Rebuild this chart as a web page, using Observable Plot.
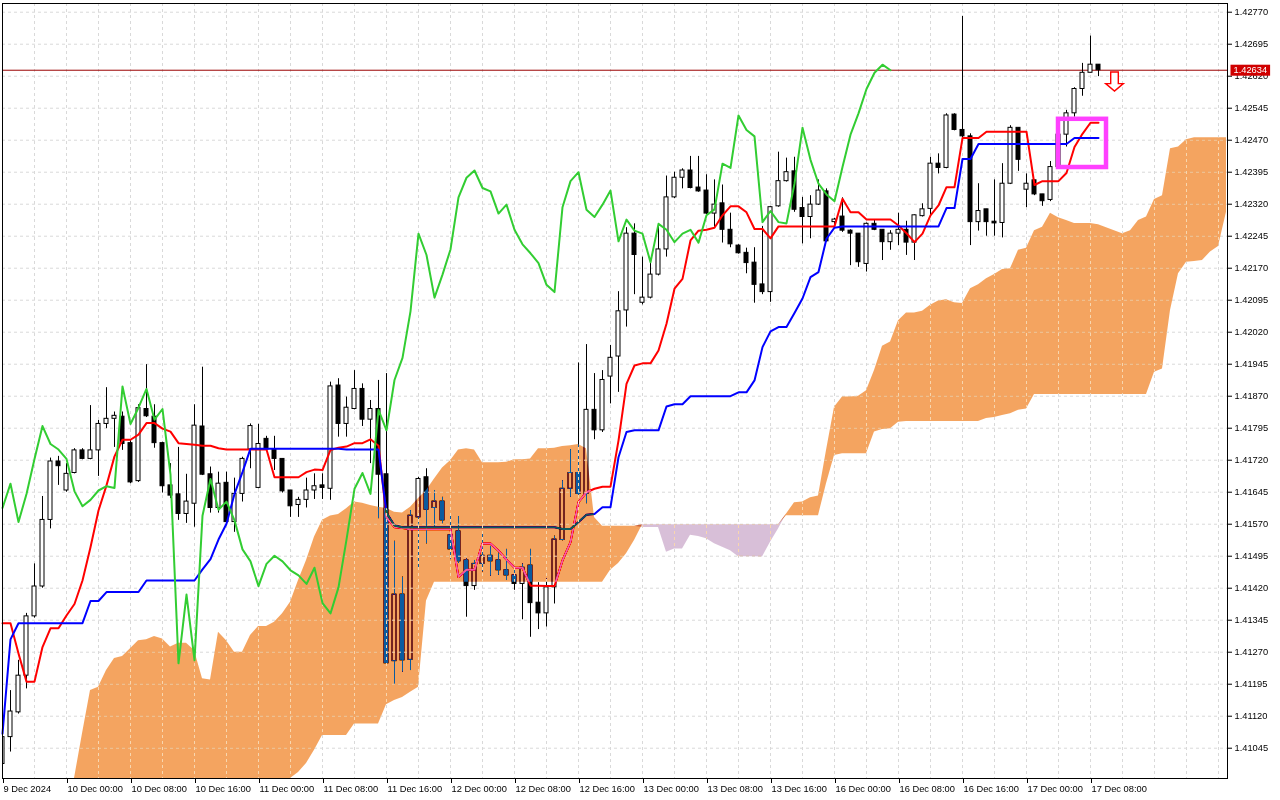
<!DOCTYPE html>
<html><head><meta charset="utf-8">
<script src="https://cdn.jsdelivr.net/npm/d3@7"></script>
<script src="https://cdn.jsdelivr.net/npm/@observablehq/plot@0.6"></script>
<style>
html,body{margin:0;padding:0;background:#fff;}
#wrap{width:1280px;height:800px;overflow:hidden;}
</style></head><body><div id="wrap"></div>
<script>
// ---- H1 candles (bar index 0 = 9 Dec 16:00) ----
const open = [1.41008,1.41071,1.41129,1.41215,1.41354,1.41424,1.41580,1.41717,1.41649,1.41690,
1.41743,1.41723,1.41743,1.41805,1.41817,1.41822,1.41760,1.41671,1.41840,1.41822,
1.41760,1.41661,1.41640,1.41594,1.41618,1.41799,1.41687,1.41608,1.41667,1.41575,
1.41641,1.41745,1.41655,1.41770,1.41745,1.41723,1.41649,1.41615,1.41627,1.41649,
1.41661,1.41653,1.41895,1.41805,1.41840,1.41887,1.41815,1.41840,1.41687,1.41249,
1.41405,1.41252,1.41586,1.41680,1.41608,1.41623,1.41544,1.41553,1.41485,1.41425,
1.41477,1.41496,1.41485,1.41462,1.41450,1.41430,1.41473,1.41386,1.41361,1.41422,
1.41533,1.41653,1.41690,1.41641,1.41838,1.41790,1.41916,1.41963,1.42071,1.42251,
1.42089,1.42101,1.42155,1.42214,1.42336,1.42382,1.42399,1.42359,1.42352,1.42298,
1.42322,1.42260,1.42223,1.42206,1.42183,1.42132,1.42114,1.42315,1.42374,1.42397,
1.42311,1.42290,1.42319,1.42350,1.42278,1.42291,1.42258,1.42251,1.42180,1.42274,
1.42260,1.42231,1.42251,1.42260,1.42230,1.42292,1.42309,1.42415,1.42405,1.42530,
1.42494,1.42479,1.42278,1.42308,1.42279,1.42276,1.42368,1.42499,1.42354,1.42376,
1.42343,1.42330,1.42407,1.42483,1.42533,1.42590,1.42628,1.42647];
const high = [1.41079,1.41180,1.41251,1.41361,1.41477,1.41635,1.41725,1.41729,1.41712,1.41747,
1.41747,1.41848,1.41813,1.41890,1.41833,1.41833,1.41766,1.41850,1.41944,1.41850,
1.41762,1.41712,1.41750,1.41687,1.41850,1.41938,1.41704,1.41692,1.41692,1.41678,
1.41727,1.41805,1.41804,1.41776,1.41776,1.41723,1.41649,1.41633,1.41678,1.41688,
1.41688,1.41903,1.41911,1.41868,1.41930,1.41899,1.41860,1.41907,1.41923,1.41530,
1.41446,1.41602,1.41680,1.41700,1.41649,1.41633,1.41588,1.41588,1.41489,1.41485,
1.41546,1.41518,1.41502,1.41511,1.41469,1.41477,1.41511,1.41433,1.41442,1.41542,
1.41672,1.41745,1.41948,1.41991,1.41923,1.41930,1.41989,1.42115,1.42265,1.42274,
1.42196,1.42184,1.42274,1.42386,1.42395,1.42403,1.42432,1.42432,1.42389,1.42377,
1.42365,1.42299,1.42225,1.42217,1.42218,1.42268,1.42315,1.42442,1.42428,1.42430,
1.42336,1.42340,1.42377,1.42356,1.42287,1.42335,1.42260,1.42251,1.42276,1.42282,
1.42260,1.42258,1.42299,1.42280,1.42295,1.42321,1.42430,1.42438,1.42532,1.42532,
1.42760,1.42485,1.42368,1.42308,1.42377,1.42415,1.42504,1.42499,1.42391,1.42376,
1.42343,1.42420,1.42493,1.42540,1.42593,1.42650,1.42714,1.42647];
const low = [1.40993,1.41036,1.41125,1.41184,1.41350,1.41420,1.41559,1.41661,1.41645,1.41688,
1.41721,1.41721,1.41682,1.41794,1.41750,1.41743,1.41665,1.41668,1.41820,1.41748,
1.41643,1.41630,1.41579,1.41572,1.41563,1.41684,1.41596,1.41596,1.41572,1.41551,
1.41622,1.41700,1.41653,1.41741,1.41696,1.41643,1.41586,1.41586,1.41608,1.41628,
1.41628,1.41626,1.41774,1.41774,1.41838,1.41799,1.41712,1.41583,1.41237,1.41194,
1.41223,1.41227,1.41462,1.41524,1.41563,1.41571,1.41487,1.41478,1.41352,1.41415,
1.41458,1.41448,1.41450,1.41438,1.41415,1.41346,1.41305,1.41323,1.41329,1.41383,
1.41531,1.41633,1.41633,1.41618,1.41768,1.41785,1.41852,1.41879,1.42032,1.42108,
1.42084,1.42098,1.42152,1.42196,1.42333,1.42356,1.42356,1.42348,1.42296,1.42266,
1.42229,1.42218,1.42203,1.42157,1.42088,1.42108,1.42090,1.42313,1.42372,1.42301,
1.42227,1.42239,1.42317,1.42231,1.42270,1.42254,1.42176,1.42172,1.42161,1.42258,
1.42188,1.42212,1.42223,1.42200,1.42188,1.42290,1.42294,1.42391,1.42403,1.42492,
1.42476,1.42223,1.42257,1.42245,1.42245,1.42241,1.42366,1.42397,1.42312,1.42340,
1.42315,1.42326,1.42406,1.42454,1.42524,1.42573,1.42628,1.42619];
const close = [1.41071,1.41131,1.41215,1.41354,1.41424,1.41580,1.41717,1.41706,1.41688,1.41743,
1.41723,1.41743,1.41805,1.41817,1.41824,1.41758,1.41668,1.41842,1.41823,1.41760,
1.41659,1.41637,1.41594,1.41623,1.41801,1.41686,1.41608,1.41665,1.41575,1.41641,
1.41723,1.41800,1.41758,1.41745,1.41723,1.41647,1.41612,1.41627,1.41649,1.41659,
1.41655,1.41893,1.41805,1.41843,1.41887,1.41815,1.41840,1.41686,1.41244,1.41405,
1.41251,1.41590,1.41676,1.41604,1.41623,1.41579,1.41511,1.41483,1.41425,1.41477,
1.41496,1.41483,1.41462,1.41450,1.41430,1.41468,1.41385,1.41361,1.41422,1.41534,
1.41653,1.41690,1.41641,1.41838,1.41790,1.41908,1.41960,1.42069,1.42251,1.42201,
1.42101,1.42155,1.42214,1.42336,1.42382,1.42399,1.42358,1.42350,1.42298,1.42319,
1.42260,1.42226,1.42205,1.42182,1.42131,1.42114,1.42313,1.42374,1.42395,1.42307,
1.42290,1.42319,1.42352,1.42233,1.42284,1.42258,1.42251,1.42184,1.42274,1.42260,
1.42231,1.42251,1.42260,1.42230,1.42294,1.42308,1.42415,1.42405,1.42528,1.42494,
1.42479,1.42278,1.42304,1.42278,1.42275,1.42368,1.42499,1.42424,1.42368,1.42343,
1.42327,1.42407,1.42483,1.42533,1.42590,1.42628,1.42647,1.42634];

// ---- Ichimoku lines ----
const tenkan = [1.41338,1.41338,1.41267,1.41201,1.41201,1.41282,1.41326,1.41326,1.41356,1.41383,
1.41438,1.41516,1.41602,1.41661,1.41729,1.41768,1.41768,1.41780,1.41807,1.41807,
1.41794,1.41787,1.41760,1.41758,1.41756,1.41754,1.41754,1.41748,1.41745,1.41745,
1.41745,1.41745,1.41745,1.41745,1.41680,1.41680,1.41680,1.41680,1.41692,1.41698,
1.41697,1.41744,1.41749,1.41752,1.41760,1.41760,1.41769,1.41754,1.41586,1.41563,
1.41561,1.41558,1.41558,1.41558,1.41558,1.41558,1.41558,1.41446,1.41463,1.41463,
1.41525,1.41525,1.41508,1.41487,1.41468,1.41468,1.41426,1.41426,1.41425,1.41425,
1.41485,1.41528,1.41622,1.41645,1.41653,1.41658,1.41658,1.41766,1.41899,1.41942,
1.41947,1.41947,1.41977,1.42040,1.42122,1.42145,1.42235,1.42258,1.42260,1.42265,
1.42294,1.42315,1.42315,1.42301,1.42262,1.42262,1.42240,1.42268,1.42268,1.42268,
1.42268,1.42268,1.42268,1.42268,1.42268,1.42333,1.42301,1.42301,1.42284,1.42284,
1.42284,1.42284,1.42270,1.42252,1.42231,1.42251,1.42294,1.42317,1.42360,1.42360,
1.42475,1.42475,1.42475,1.42490,1.42490,1.42490,1.42490,1.42490,1.42490,1.42365,
1.42374,1.42374,1.42374,1.42393,1.42454,1.42485,1.42511,1.42511];
const kijun = [1.41079,1.41300,1.41338,1.41338,1.41338,1.41338,1.41338,1.41338,1.41338,1.41338,
1.41338,1.41390,1.41390,1.41411,1.41411,1.41411,1.41411,1.41411,1.41438,1.41438,
1.41438,1.41438,1.41438,1.41438,1.41438,1.41464,1.41488,1.41534,1.41571,1.41641,
1.41692,1.41747,1.41747,1.41747,1.41747,1.41747,1.41747,1.41747,1.41747,1.41747,
1.41747,1.41747,1.41747,1.41745,1.41745,1.41745,1.41745,1.41745,1.41597,1.41567,
1.41563,1.41563,1.41563,1.41563,1.41563,1.41563,1.41563,1.41563,1.41563,1.41563,
1.41563,1.41563,1.41563,1.41563,1.41563,1.41563,1.41563,1.41563,1.41563,1.41563,
1.41559,1.41559,1.41575,1.41592,1.41594,1.41610,1.41610,1.41727,1.41786,1.41790,
1.41790,1.41790,1.41790,1.41846,1.41851,1.41851,1.41870,1.41870,1.41870,1.41870,
1.41870,1.41870,1.41879,1.41879,1.41907,1.41985,1.42022,1.42032,1.42032,1.42065,
1.42099,1.42149,1.42161,1.42239,1.42265,1.42268,1.42268,1.42268,1.42268,1.42268,
1.42268,1.42268,1.42268,1.42268,1.42268,1.42268,1.42268,1.42268,1.42311,1.42311,
1.42426,1.42426,1.42461,1.42461,1.42461,1.42461,1.42461,1.42461,1.42461,1.42461,
1.42461,1.42461,1.42461,1.42461,1.42475,1.42475,1.42475,1.42475];
const spanA = [1.40900,1.40900,1.40900,1.40900,1.40900,1.40900,1.40900,1.40900,1.40900,1.40960,
1.41079,1.41180,1.41188,1.41227,1.41255,1.41260,1.41278,1.41297,1.41299,1.41307,
1.41301,1.41282,1.41291,1.41291,1.41274,1.41208,1.41205,1.41317,1.41297,1.41270,
1.41270,1.41309,1.41330,1.41330,1.41340,1.41360,1.41387,1.41438,1.41485,1.41540,
1.41579,1.41589,1.41593,1.41606,1.41622,1.41619,1.41614,1.41610,1.41607,1.41598,
1.41596,1.41610,1.41630,1.41649,1.41676,1.41702,1.41719,1.41744,1.41747,1.41744,
1.41714,1.41714,1.41714,1.41715,1.41721,1.41721,1.41723,1.41747,1.41747,1.41748,
1.41752,1.41754,1.41757,1.41747,1.41586,1.41565,1.41565,1.41565,1.41565,1.41565,
1.41562,1.41562,1.41562,1.41504,1.41512,1.41512,1.41544,1.41541,1.41536,1.41524,
1.41516,1.41508,1.41494,1.41494,1.41494,1.41493,1.41528,1.41559,1.41594,1.41620,
1.41622,1.41632,1.41636,1.41743,1.41844,1.41868,1.41868,1.41870,1.41883,1.41930,
1.41987,1.41997,1.42047,1.42065,1.42065,1.42069,1.42083,1.42093,1.42096,1.42089,
1.42087,1.42122,1.42131,1.42145,1.42155,1.42167,1.42169,1.42212,1.42217,1.42258,
1.42266,1.42299,1.42288,1.42282,1.42275,1.42275,1.42275,1.42272,1.42265,1.42258,
1.42251,1.42258,1.42282,1.42290,1.42331,1.42340,1.42450,1.42454,1.42471,1.42476,
1.42476,1.42476,1.42476,1.42476];
const spanB = [1.40900,1.40900,1.40900,1.40900,1.40900,1.40900,1.40900,1.40900,1.40900,1.40900,
1.40900,1.40900,1.40900,1.40900,1.40900,1.40900,1.40900,1.40900,1.40900,1.40900,
1.40900,1.40900,1.40900,1.40900,1.40900,1.40900,1.40900,1.40900,1.40900,1.40900,
1.40900,1.40900,1.40900,1.40900,1.40900,1.40900,1.40940,1.40988,1.41009,1.41040,
1.41075,1.41075,1.41075,1.41075,1.41102,1.41102,1.41102,1.41102,1.41147,1.41157,
1.41164,1.41176,1.41188,1.41390,1.41434,1.41434,1.41434,1.41434,1.41434,1.41434,
1.41434,1.41434,1.41434,1.41434,1.41434,1.41434,1.41434,1.41434,1.41434,1.41434,
1.41434,1.41434,1.41434,1.41434,1.41434,1.41434,1.41462,1.41478,1.41501,1.41532,
1.41569,1.41569,1.41569,1.41569,1.41569,1.41569,1.41569,1.41569,1.41569,1.41569,
1.41569,1.41569,1.41569,1.41569,1.41569,1.41569,1.41569,1.41569,1.41590,1.41590,
1.41590,1.41590,1.41590,1.41665,1.41731,1.41735,1.41735,1.41735,1.41735,1.41786,
1.41792,1.41794,1.41809,1.41811,1.41811,1.41811,1.41811,1.41811,1.41811,1.41811,
1.41811,1.41811,1.41811,1.41818,1.41820,1.41825,1.41829,1.41837,1.41840,1.41874,
1.41874,1.41874,1.41874,1.41874,1.41874,1.41874,1.41874,1.41874,1.41874,1.41874,
1.41874,1.41874,1.41874,1.41874,1.41926,1.41934,1.42071,1.42157,1.42184,1.42186,
1.42188,1.42208,1.42221,1.42301];

// ---- axes ----
const timeTickIdx = [0,8,16,24,32,40,48,56,64,72,80,88,96,104,112,120,128,136];
const timeTickLabels = ["9 Dec 2024","10 Dec 00:00","10 Dec 08:00","10 Dec 16:00","11 Dec 00:00",
"11 Dec 08:00","11 Dec 16:00","12 Dec 00:00","12 Dec 08:00","12 Dec 16:00","13 Dec 00:00",
"13 Dec 08:00","13 Dec 16:00","16 Dec 00:00","16 Dec 08:00","16 Dec 16:00","17 Dec 00:00","17 Dec 08:00"];
const priceTicks = [1.41045,1.41120,1.41195,1.41270,1.41345,1.41420,1.41495,1.41570,1.41645,1.41720,
1.41795,1.41870,1.41945,1.42020,1.42095,1.42170,1.42245,1.42320,1.42395,1.42470,1.42545,1.42620,1.42695,1.42770];
const lastPrice = 1.42634;
const boxes = [{i1: 132, i2: 138, p1: 1.42519, p2: 1.42406}];
const arrows = [{i: 139, price: 1.42608}];

// ---- tables ----
const candles = open.map((o, i) => ({i, open: o, high: high[i], low: low[i], close: close[i], up: close[i] >= o}));
const tenkanData = tenkan.map((v, i) => ({i, v}));
const kijunData = kijun.map((v, i) => ({i, v}));
const cloud = spanA.map((a, i) => ({i, a, b: spanB[i]}));
const chikou = close.slice(26).map((v, k) => ({i: k, v}));
const gridIdx = d3.range(4, 153, 4);
const labelOf = new Map(timeTickIdx.map((d, k) => [d, timeTickLabels[k]]));

const arrowSymbol = {
  draw(ctx) {
    ctx.moveTo(-3.8, -9.3); ctx.lineTo(3.8, -9.3); ctx.lineTo(3.8, 2.3); ctx.lineTo(8.8, 2.3);
    ctx.lineTo(0, 9.7); ctx.lineTo(-8.8, 2.3); ctx.lineTo(-3.8, 2.3); ctx.closePath();
  }
};

const gridStyle = {stroke: "#d9d9d9", strokeOpacity: 1, strokeDasharray: "3,3", ariaDescription: "grid"};

const chart = Plot.plot({
  width: 1280, height: 800,
  marginLeft: 2, marginRight: 53, marginTop: 3, marginBottom: 22,
  x: {type: "linear", domain: [0, 153.125], axis: null},
  y: {type: "linear", domain: [1.40974, 1.427904], axis: null, clamp: true},
  style: {fontFamily: "'Liberation Sans', Arial, sans-serif", fontSize: "9.3px", background: "#fff", color: "#000", overflow: "visible"},
  marks: [
    Plot.frame({fill: "#fff"}),
    Plot.gridY(priceTicks, gridStyle),
    Plot.gridX(gridIdx, gridStyle),
    Plot.ruleY([lastPrice], {stroke: "#9a0000", strokeWidth: 1}),
    Plot.ruleX(candles, {x: "i", y1: "low", y2: "high", stroke: "#000", clip: true}),
    Plot.rect(candles, {x1: d => d.i - 0.25, x2: d => d.i + 0.25, y1: "open", y2: "close",
      fill: d => d.up ? "#ffffff" : "#000000", stroke: "#000", strokeWidth: 1, clip: true}),
    Plot.line(tenkanData, {x: "i", y: "v", stroke: "#ff0000", strokeWidth: 2}),
    Plot.line(kijunData, {x: "i", y: "v", stroke: "#0000ff", strokeWidth: 2}),
    Plot.areaY(cloud, {x: "i", y1: "b", y2: d => Math.max(d.a, d.b), fill: "#0b5b9f", mixBlendMode: "difference", ariaDescription: "cloud"}),
    Plot.areaY(cloud, {x: "i", y1: "a", y2: d => Math.max(d.a, d.b), fill: "#274027", mixBlendMode: "difference", ariaDescription: "cloud"}),
    Plot.line(chikou, {x: "i", y: "v", stroke: "#32cd32", strokeWidth: 2}),
    Plot.rect(boxes, {x1: "i1", x2: "i2", y1: "p1", y2: "p2", fill: "none", stroke: "#ff40ff", strokeWidth: 4.5}),
    Plot.dot(arrows, {x: "i", y: "price", symbol: arrowSymbol, r: 8, fill: "#ffffff", stroke: "#ff0000", strokeWidth: 1.4}),
    Plot.frame({stroke: "#000"}),
    Plot.axisY(priceTicks, {anchor: "right", tickSize: 4, tickPadding: 3, tickFormat: d => d.toFixed(5)}),
    Plot.axisX(timeTickIdx, {anchor: "bottom", tickSize: 5, tickPadding: 2, tickFormat: d => labelOf.get(d), textAnchor: "start", dx: 1}),
    Plot.text([lastPrice], {y: d => d, text: d => d.toFixed(5), frameAnchor: "right", dx: 6, textAnchor: "start", fill: "#ffffff", ariaDescription: "pricelabel"})
  ]
});
document.getElementById("wrap").appendChild(chart);

// light grid inside the cloud (MT5 shows the grid through the filling)
const NS = "http://www.w3.org/2000/svg";
const areaNodes = Array.from(chart.querySelectorAll('g[aria-description="cloud"]'));
if (areaNodes.length) {
  let defs = chart.querySelector("defs");
  if (!defs) { defs = document.createElementNS(NS, "defs"); chart.insertBefore(defs, chart.firstChild); }
  const cp = document.createElementNS(NS, "clipPath");
  cp.setAttribute("id", "cloudclip");
  areaNodes.forEach(g => {
    const t = g.getAttribute("transform");
    g.querySelectorAll("path").forEach(p => {
      const c = document.createElementNS(NS, "path");
      c.setAttribute("d", p.getAttribute("d"));
      if (t) c.setAttribute("transform", t);
      cp.appendChild(c);
    });
  });
  defs.appendChild(cp);
  const wrapG = document.createElementNS(NS, "g");
  wrapG.setAttribute("clip-path", "url(#cloudclip)");
  chart.querySelectorAll('g[aria-description="grid"]').forEach(g => {
    const c = g.cloneNode(true);
    c.removeAttribute("aria-description");
    c.setAttribute("stroke", "#f8d6ae");
    c.querySelectorAll("line").forEach(l => { if (l.hasAttribute("stroke")) l.setAttribute("stroke", "#f8d6ae"); });
    wrapG.appendChild(c);
  });
  const last = areaNodes[areaNodes.length - 1];
  last.parentNode.insertBefore(wrapG, last.nextSibling);
}

// red background for the current price label (drawn over the axis, as in the terminal)
const lbl = chart.querySelector('g[aria-description="pricelabel"] text');
if (lbl) {
  const bb = lbl.getBBox();
  const r = document.createElementNS(NS, "rect");
  r.setAttribute("x", bb.x - 3);
  r.setAttribute("y", bb.y - 0.5);
  r.setAttribute("width", bb.width + 6);
  r.setAttribute("height", bb.height + 1);
  r.setAttribute("fill", "#d00000");
  const t = lbl.getAttribute("transform");
  if (t) r.setAttribute("transform", t);
  lbl.parentNode.insertBefore(r, lbl);
}
</script>
</body></html>
